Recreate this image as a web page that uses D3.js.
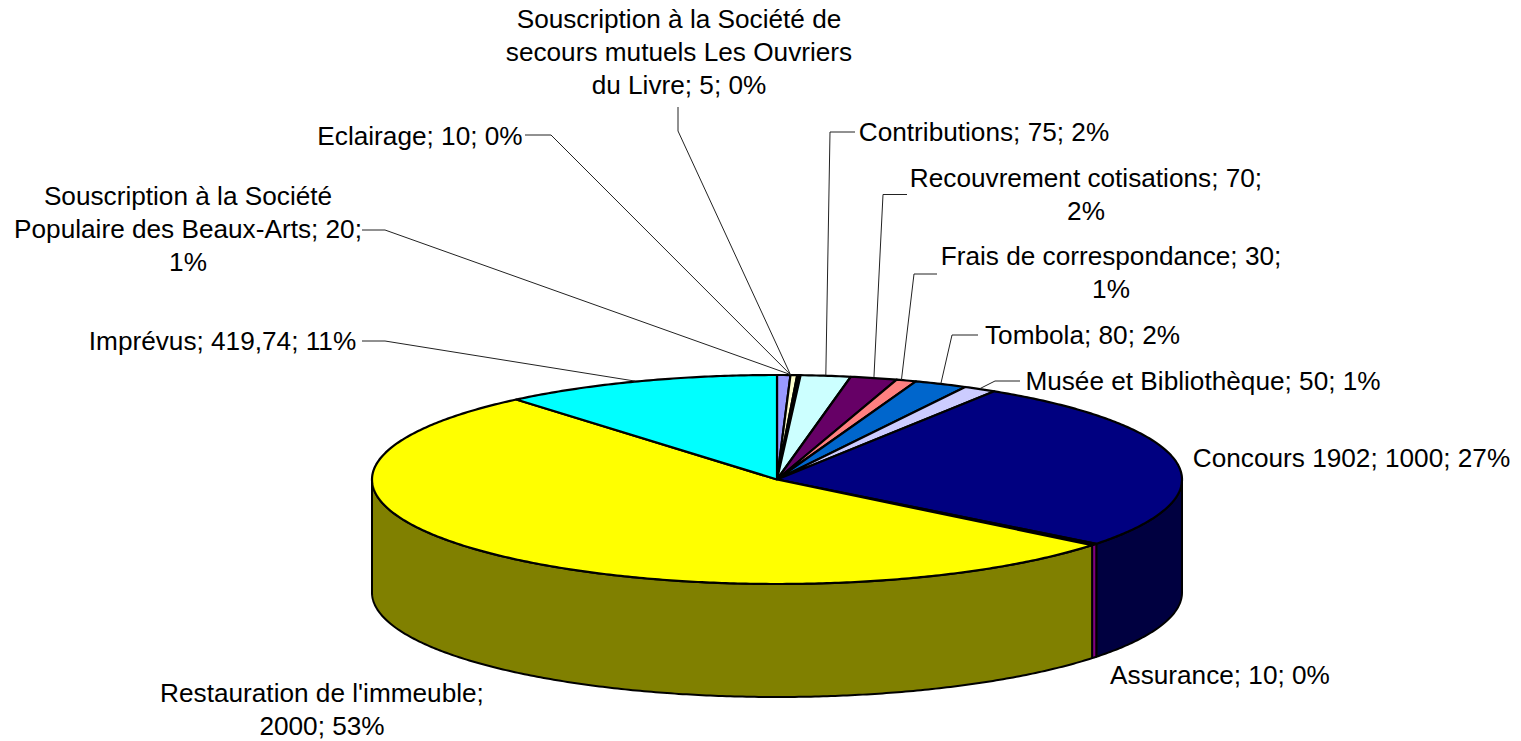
<!DOCTYPE html>
<html><head><meta charset="utf-8">
<style>html,body{margin:0;padding:0;background:#fff;overflow:hidden}svg{display:block}text{font-family:"Liberation Sans",Arial,sans-serif;fill:#000}</style>
<script src="https://cdn.jsdelivr.net/npm/d3@7"></script>
</head><body><svg id="c"></svg>
<script>
const categories = ["Souscription à la Société Populaire des Beaux-Arts","Eclairage","Souscription à la Société de secours mutuels Les Ouvriers du Livre","Contributions","Recouvrement cotisations","Frais de correspondance","Tombola","Musée et Bibliothèque","Concours 1902","Assurance","Restauration de l'immeuble","Imprévus"];
const values = [20,10,5,75,70,30,80,50,1000,10,2000,419.74];
const topColors = ["#9999FF","#FFFFCC","#000000","#CCFFFF","#660066","#FF8080","#0066CC","#CCCCFF","#000080","#FF00FF","#FFFF00","#00FFFF"];
const sideColors = ["#4C4C80","#808066","#000000","#668080","#330033","#804040","#003366","#666680","#000040","#800080","#808000","#008080"];

// Label layout: centre x, first baseline, wrapped lines, leader elbow points, optional leader anchor angle (deg)
const labelLines = [
 ["Souscription à la Société","Populaire des Beaux-Arts; 20;","1%"],
 ["Eclairage; 10; 0%"],
 ["Souscription à la Société de","secours mutuels Les Ouvriers","du Livre; 5; 0%"],
 ["Contributions; 75; 2%"],
 ["Recouvrement cotisations; 70;","2%"],
 ["Frais de correspondance; 30;","1%"],
 ["Tombola; 80; 2%"],
 ["Musée et Bibliothèque; 50; 1%"],
 ["Concours 1902; 1000; 27%"],
 ["Assurance; 10; 0%"],
 ["Restauration de l'immeuble;","2000; 53%"],
 ["Imprévus; 419,74; 11%"]
];
const labelX = [188,420,679,984,1086,1111,1082.5,1203,1351.5,1220,322,222.5];
const labelY = [205,145,28,141,187,265,344,389.5,467,684,702,350];
const leaderPts = [
 [[362,230],[385,230]],
 [[525,135],[551,135]],
 [[678,107],[678,131]],
 [[855,132],[830,132]],
 [[907,194.5],[883,194.5]],
 [[937,274],[914,274]],
 [[978,335],[952,335]],
 [[1020,381],[995,381]],
 null,null,null,
 [[362,341],[385,341]]
];
const leaderAngle = [1.9,1.9,1.9,null,null,17.9,null,null,null,null,null,339.5];

const W=1521,H=741,cx=777,cy=479.5,rx=405,ry=104.5,depth=113,FS=26.2,LH=33;
const svg=d3.select("#c").attr("width",W).attr("height",H).attr("viewBox",`0 0 ${W} ${H}`);
const pie=d3.pie().sort(null).value(d=>d).startAngle(0).endAngle(2*Math.PI);
const arcs=pie(values);
const sx=d3.scaleLinear().domain([-1,1]).range([cx-rx,cx+rx]);
const sy=d3.scaleLinear().domain([-1,1]).range([cy-ry,cy+ry]);
const px=a=>sx(Math.sin(a)), py=a=>sy(-Math.cos(a));
const line=d3.line().x(d=>d[0]).y(d=>d[1]);
const samples=(a0,a1)=>{const n=Math.max(2,Math.ceil((a1-a0)/0.01));return d3.range(n+1).map(i=>a0+(a1-a0)*i/n)};

const g=svg.append("g");
arcs.forEach((d,i)=>{
  const a0=Math.max(d.startAngle,Math.PI/2),a1=Math.min(d.endAngle,3*Math.PI/2);
  if(a1<=a0)return;
  const s=samples(a0,a1);
  const pts=s.map(a=>[px(a),py(a)]).concat(s.slice().reverse().map(a=>[px(a),py(a)+depth]));
  g.append("path").attr("d",line(pts)+"Z").attr("fill",sideColors[i]).attr("stroke","#000").attr("stroke-width",2).attr("stroke-linejoin","round");
});
arcs.forEach((d,i)=>{
  const s=samples(d.startAngle,d.endAngle);
  const pts=[[cx,cy]].concat(s.map(a=>[px(a),py(a)]));
  g.append("path").attr("d",line(pts)+"Z").attr("fill",topColors[i]).attr("stroke","#000").attr("stroke-width",2.2).attr("stroke-linejoin","round");
});
arcs.forEach((d,i)=>{
  if(!leaderPts[i])return;
  const a=leaderAngle[i]!=null?leaderAngle[i]*Math.PI/180:(d.startAngle+d.endAngle)/2;
  const pts=leaderPts[i].concat([[px(a),py(a)-0.5]]);
  g.append("path").attr("d",line(pts)).attr("fill","none").attr("stroke","#222").attr("stroke-width",1);
});
categories.forEach((c,i)=>{
  const t=svg.append("text").attr("font-size",FS).attr("text-anchor","middle");
  labelLines[i].forEach((l,j)=>t.append("tspan").attr("x",labelX[i]).attr("y",labelY[i]+j*LH).text(l));
});
</script></body></html>
